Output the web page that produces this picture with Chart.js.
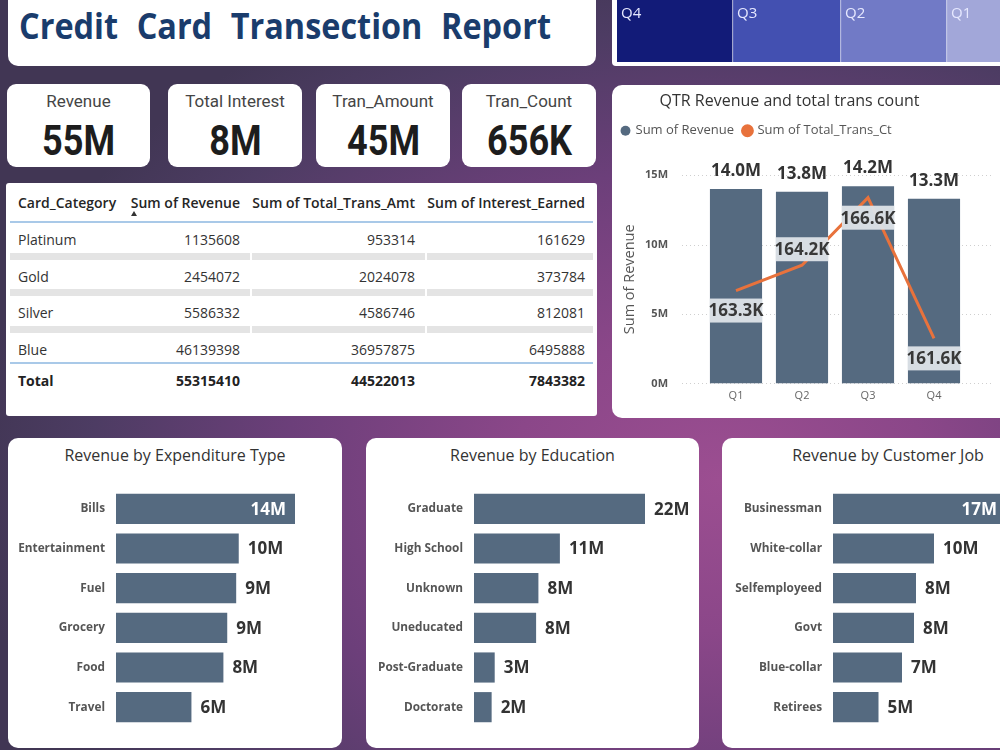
<!DOCTYPE html>
<html><head><meta charset="utf-8">
<script src="https://cdn.jsdelivr.net/npm/chart.js@4.4.1/dist/chart.umd.min.js"></script>
<style>
html,body{margin:0;padding:0;width:1000px;height:750px;overflow:hidden;}
body{position:relative;font-family:'Open Sans',sans-serif;
 background: radial-gradient(ellipse 75% 72% at 72% 64%, #9c4e91 0%, #8b4789 28%, #6c3f7a 58%, #4d3c63 84%, #413654 100%);}
.panel{position:absolute;background:#fff;border-radius:10px;overflow:hidden;}
.abs{position:absolute;white-space:nowrap;}
canvas{position:absolute;}
#title{position:absolute;left:11px;top:20px;font-size:35px;line-height:35px;font-weight:700;color:#1a3c6c;word-spacing:11px;transform-origin:0 50%;white-space:nowrap;}
.kpi .lab{position:absolute;left:0;right:0;text-align:center;font-family:Roboto,sans-serif;font-size:17px;line-height:20px;color:#454545;top:7px;}
.kpi .val{position:absolute;left:0;right:0;text-align:center;font-family:Roboto,sans-serif;font-weight:700;font-size:42px;line-height:42px;color:#1d1d1d;top:36px;}
.kpi .val span{display:inline-block;transform:scaleX(0.86);}
.ptitle{position:absolute;left:0;right:0;text-align:center;font-size:16px;line-height:20px;color:#333;top:7px;}
</style></head>
<body>
<div class="panel" style="left:8px;top:-12px;width:588px;height:78px;"><div id="title">Credit Card Transection Report</div></div>
<div class="panel" style="left:612px;top:-12px;width:452px;height:78px;border-radius:4px;"><canvas id="tm" width="440" height="62" style="left:5px;top:12px;"></canvas></div>

<div id="kpis"></div>
<div class="panel" id="tbl" style="left:6px;top:183px;width:591px;height:233px;border-radius:3px;"></div>

<div class="panel" style="left:612px;top:85px;width:452px;height:333px;"><canvas id="combo" width="452" height="340" style="left:0;top:0;"></canvas></div>

<div class="panel" style="left:8px;top:438px;width:334px;height:310px;"><div class="ptitle">Revenue by Expenditure Type</div><canvas id="exp" width="334" height="310" style="left:0;top:0;"></canvas></div>
<div class="panel" style="left:366px;top:438px;width:333px;height:310px;"><div class="ptitle">Revenue by Education</div><canvas id="edu" width="333" height="310" style="left:0;top:0;"></canvas></div>
<div class="panel" style="left:722px;top:438px;width:332px;height:310px;"><div class="ptitle">Revenue by Customer Job</div><canvas id="job" width="332" height="310" style="left:0;top:0;"></canvas></div>

<script>
// ---------------- DATA ----------------
const quarters = ['Q1', 'Q2', 'Q3', 'Q4'];
const qtrRevenue = [14.0e6, 13.8e6, 14.2e6, 13.3e6];
const qtrTransCt = [163.3e3, 164.2e3, 166.6e3, 161.6e3];
const qtrLabelSide = ['below', 'above', 'below', 'below'];

const treemapLabels = ['Q4', 'Q3', 'Q2', 'Q1'];
const treemapValues = [11.6, 10.8, 10.6, 11.0];
const treemapColors = ['#121b78', '#4350b1', '#717ac6', '#a2a7d9'];

const cardCategory = ['Platinum', 'Gold', 'Silver', 'Blue'];
const cardRevenue = [1135608, 2454072, 5586332, 46139398];
const cardTransAmt = [953314, 2024078, 4586746, 36957875];
const cardInterest = [161629, 373784, 812081, 6495888];
const tableHeaders = ['Card_Category', 'Sum of Revenue', 'Sum of Total_Trans_Amt', 'Sum of Interest_Earned'];

const expTypes = ['Bills', 'Entertainment', 'Fuel', 'Grocery', 'Food', 'Travel'];
const expRevenue = [14.0, 9.6, 9.4, 8.7, 8.4, 5.9];

const eduLevels = ['Graduate', 'High School', 'Unknown', 'Uneducated', 'Post-Graduate', 'Doctorate'];
const eduRevenue = [22.3, 11.2, 8.4, 8.1, 2.7, 2.3];

const jobTypes = ['Businessman', 'White-collar', 'Selfemployeed', 'Govt', 'Blue-collar', 'Retirees'];
const jobRevenue = [17.3, 10.1, 8.3, 8.1, 6.9, 4.55];

// ---------------- HELPERS ----------------
const sum = a => a.reduce((s, v) => s + v, 0);
Chart.defaults.font.family = "'Open Sans', sans-serif";
Chart.defaults.animation = false;
Chart.defaults.responsive = false;
Chart.defaults.devicePixelRatio = 1;
const BAR = '#556a80';

// KPI cards
const kpiDefs = [
  {label: 'Revenue', value: Math.round(sum(cardRevenue) / 1e6) + 'M', x: 7, w: 143},
  {label: 'Total Interest', value: Math.round(sum(cardInterest) / 1e6) + 'M', x: 168, w: 134},
  {label: 'Tran_Amount', value: Math.round(sum(cardTransAmt) / 1e6) + 'M', x: 316, w: 134},
  {label: 'Tran_Count', value: Math.round(sum(qtrTransCt) / 1e3) + 'K', x: 462, w: 134},
];
const kpis = document.getElementById('kpis');
kpiDefs.forEach(k => {
  const d = document.createElement('div');
  d.className = 'panel kpi';
  d.style.cssText = `left:${k.x}px;top:84px;width:${k.w}px;height:83px;border-radius:9px;`;
  d.innerHTML = `<div class="lab">${k.label}</div><div class="val"><span>${k.value}</span></div>`;
  kpis.appendChild(d);
});

// Table
(function buildTable() {
  const t = document.getElementById('tbl');
  const colRight = [null, 234, 409, 579];
  const add = (html, css) => { const d = document.createElement('div'); d.className = 'abs'; d.style.cssText = css; d.innerHTML = html; t.appendChild(d); };
  const cell = (txt, col, cy, style) => {
    if (col === 0) add(txt, `left:12px;top:${cy - 10}px;line-height:20px;${style}`);
    else add(txt, `right:${591 - colRight[col]}px;top:${cy - 10}px;line-height:20px;${style}`);
  };
  const hs = 'font-size:14px;font-weight:600;color:#252525;';
  tableHeaders.forEach((h, i) => cell(h, i, 20, hs));
  add('', 'left:125px;top:28px;width:0;height:0;border-left:3.5px solid transparent;border-right:3.5px solid transparent;border-bottom:5px solid #333;');
  add('', 'left:4px;top:38px;width:583px;height:2px;background:#a9c9e8;');
  const rs = 'font-size:14px;color:#333;';
  const segs = [[4, 244], [246, 419], [421, 587]];
  cardCategory.forEach((c, i) => {
    const cy = 57 + i * 36.7;
    cell(c, 0, cy, rs);
    cell(String(cardRevenue[i]), 1, cy, rs);
    cell(String(cardTransAmt[i]), 2, cy, rs);
    cell(String(cardInterest[i]), 3, cy, rs);
    if (i < cardCategory.length - 1) segs.forEach(s => add('', `left:${s[0]}px;top:${cy + 12.5}px;width:${s[1] - s[0]}px;height:7px;background:#e4e4e4;`));
    else add('', `left:4px;top:${cy + 12}px;width:583px;height:2px;background:#a9c9e8;`);
  });
  const ts = 'font-size:14px;font-weight:700;color:#222;';
  const cyT = 197.5;
  cell('Total', 0, cyT, ts);
  cell(String(sum(cardRevenue)), 1, cyT, ts);
  cell(String(sum(cardTransAmt)), 2, cyT, ts);
  cell(String(sum(cardInterest)), 3, cyT, ts);
})();

// ---------------- TREEMAP (stacked bar) ----------------
new Chart(document.getElementById('tm'), {
  type: 'bar',
  data: {
    labels: [''],
    datasets: treemapLabels.map((l, i) => ({
      label: l, data: [treemapValues[i]], backgroundColor: treemapColors[i],
      borderColor: '#e9eaf7', borderWidth: {left: 0, right: 1, top: 0, bottom: 0}, borderSkipped: false,
      barPercentage: 1, categoryPercentage: 1
    }))
  },
  options: {
    indexAxis: 'y',
    layout: {padding: 0},
    plugins: {legend: {display: false}, tooltip: {enabled: false}},
    scales: {
      x: {stacked: true, display: false, min: 0, max: sum(treemapValues)},
      y: {stacked: true, display: false}
    }
  },
  plugins: [{
    id: 'tmLabels',
    afterDatasetsDraw(chart) {
      const ctx = chart.ctx; ctx.save();
      ctx.font = "15px 'Open Sans'"; ctx.fillStyle = '#e6e8ff'; ctx.textBaseline = 'middle';
      chart.data.datasets.forEach((ds, i) => {
        const el = chart.getDatasetMeta(i).data[0];
        ctx.fillText(ds.label, Math.min(el.base, el.x) + 4, 14);
      });
      ctx.restore();
    }
  }]
});

// ---------------- COMBO ----------------
const fmtM1 = v => (v / 1e6).toFixed(1) + 'M';
const fmtK1 = v => (v / 1e3).toFixed(1) + 'K';
new Chart(document.getElementById('combo'), {
  type: 'bar',
  data: {
    labels: quarters,
    datasets: [
      {type: 'bar', label: 'Sum of Revenue', data: qtrRevenue, backgroundColor: BAR, yAxisID: 'y', order: 1,
       barPercentage: 0.79, categoryPercentage: 1},
      {type: 'line', label: 'Sum of Total_Trans_Ct', data: qtrTransCt, borderColor: '#e8723c', backgroundColor: '#e8723c',
       borderWidth: 3, pointRadius: 0, tension: 0, yAxisID: 'y1', order: 0}
    ]
  },
  options: {
    layout: {padding: {left: 0, right: 97, top: 0, bottom: 0}},
    plugins: {
      tooltip: {enabled: false},
      title: {display: true, text: 'QTR Revenue and total trans count', color: '#333',
              font: {size: 16, weight: 'normal'}, padding: {top: 7, bottom: 3}},
      legend: {display: true, align: 'start',
               labels: {usePointStyle: true, pointStyle: 'circle', boxWidth: 7, boxHeight: 7, padding: 10,
                        color: '#555', font: {size: 13}, sort: (a, b) => a.datasetIndex - b.datasetIndex}}
    },
    scales: {
      x: {grid: {display: false, drawTicks: false}, border: {display: false},
          ticks: {color: '#666', font: {size: 11}, padding: 6},
          afterFit(s) { s.height = 35; }},
      y: {min: 0, max: 15e6, grid: {display: false, drawTicks: false}, border: {display: false},
          ticks: {stepSize: 5e6, padding: 35, color: '#555', font: {size: 11, weight: 'bold'},
                  callback: v => (v / 1e6) + 'M'},
          title: {display: true, text: 'Sum of Revenue', color: '#555', font: {size: 14.5}, padding: {top: 9, bottom: 0}},
          afterFit(s) { s.width = 91; }},
      y1: {display: false, min: 160.0e3, max: 167.4e3}
    }
  },
  plugins: [{
    id: 'legendGap',
    beforeLayout(chart) {
      const lg = chart.legend;
      if (lg && !lg._gapPatched) {
        const f = lg.fit.bind(lg);
        lg.fit = function () { f(); this.height += 28; };
        lg._gapPatched = true;
      }
    }
  }, {
    id: 'dottedGrid',
    beforeDatasetsDraw(chart) {
      const ctx = chart.ctx, y = chart.scales.y, a = chart.chartArea;
      ctx.save(); ctx.strokeStyle = '#cfcfcf'; ctx.lineWidth = 1; ctx.setLineDash([1, 3]);
      y.ticks.forEach((t, i) => {
        const py = Math.round(y.getPixelForTick(i)) + 0.5;
        ctx.beginPath(); ctx.moveTo(a.left - 21, py); ctx.lineTo(a.right + 25, py); ctx.stroke();
      });
      ctx.restore();
    }
  }, {
    id: 'comboLabels',
    afterDatasetsDraw(chart) {
      const ctx = chart.ctx;
      const bars = chart.getDatasetMeta(0).data, pts = chart.getDatasetMeta(1).data;
      ctx.save();
      ctx.font = "bold 17px 'Open Sans'"; ctx.textAlign = 'center'; ctx.textBaseline = 'middle';
      bars.forEach((el, i) => { ctx.fillStyle = '#333'; ctx.fillText(fmtM1(qtrRevenue[i]), el.x, el.y - 18); });
      pts.forEach((p, i) => {
        const bw = bars[i].width;
        const cy = qtrLabelSide[i] === 'above' ? p.y - 16 : p.y + 20;
        ctx.fillStyle = 'rgba(220,225,230,0.97)';
        ctx.fillRect(p.x - bw / 2, cy - 12, bw, 24);
        ctx.fillStyle = '#383838';
        ctx.fillText(fmtK1(qtrTransCt[i]), p.x, cy + 1);
      });
      ctx.restore();
    }
  }]
});

// ---------------- HORIZONTAL BARS ----------------
function hbar(id, labels, values, yWidth, padRight, insideMax) {
  new Chart(document.getElementById(id), {
    type: 'bar',
    data: {labels, datasets: [{data: values, backgroundColor: BAR, barPercentage: 0.76, categoryPercentage: 1}]},
    options: {
      indexAxis: 'y',
      layout: {padding: {left: 0, right: padRight, top: 51, bottom: 21}},
      plugins: {legend: {display: false}, tooltip: {enabled: false}},
      scales: {
        x: {display: false, min: 0, max: Math.max(...values)},
        y: {grid: {display: false, drawTicks: false}, border: {display: false},
            ticks: {padding: 11, color: '#555', font: {size: 11.8, weight: 'bold'}},
            afterFit(s) { s.width = yWidth; }}
      }
    },
    plugins: [{
      id: 'valLabels',
      afterDatasetsDraw(chart) {
        const ctx = chart.ctx, max = Math.max(...values);
        ctx.save(); ctx.font = "bold 17px 'Open Sans'"; ctx.textBaseline = 'middle';
        chart.getDatasetMeta(0).data.forEach((el, i) => {
          const txt = Math.round(values[i]) + 'M';
          if (insideMax && values[i] === max) {
            ctx.fillStyle = '#fff'; ctx.textAlign = 'right'; ctx.fillText(txt, el.x - 9, el.y + 1);
          } else {
            ctx.fillStyle = '#333'; ctx.textAlign = 'left'; ctx.fillText(txt, el.x + 9, el.y + 1);
          }
        });
        ctx.restore();
      }
    }]
  });
}
hbar('exp', expTypes, expRevenue, 108, 47, true);
hbar('edu', eduLevels, eduRevenue, 108, 54, false);
hbar('job', jobTypes, jobRevenue, 111, 48, true);

// fit title width
function fitTitle() {
  const t = document.getElementById('title');
  t.style.transform = 'none';
  const w = t.getBoundingClientRect().width;
  t.style.transform = `scaleX(${532 / w})`;
}
fitTitle();
if (document.fonts && document.fonts.ready) document.fonts.ready.then(fitTitle);
</script>
</body></html>
